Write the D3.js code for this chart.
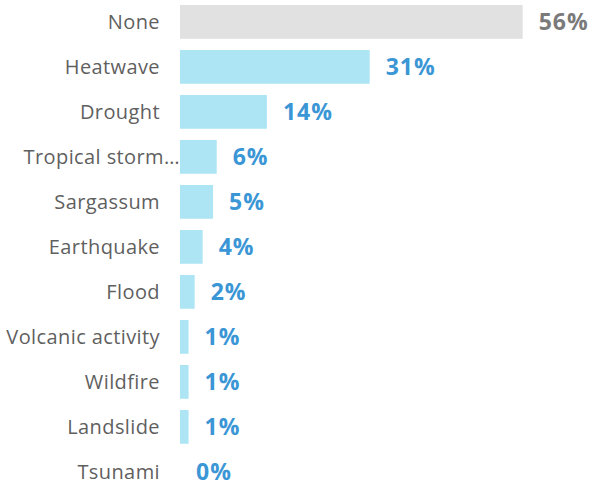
<!DOCTYPE html>
<html>
<head>
<meta charset="utf-8">
<script src="https://cdn.jsdelivr.net/npm/d3@7"></script>
<style>
  body { margin: 0; background: #fff; }
  svg { display: block; font-family: "Open Sans", Lato, sans-serif; }
</style>
</head>
<body>
<svg id="chart"></svg>
<script>
// categories, top to bottom
var categories = ['None', 'Heatwave', 'Drought', 'Tropical storm\u2026', 'Sargassum',
	'Earthquake', 'Flood', 'Volcanic activity', 'Wildfire', 'Landslide', 'Tsunami'];
// share of responses, %
var values = [56, 31, 14.2, 6, 5.4, 3.7, 2.4, 1.4, 1.4, 1.4, 0];
var valueLabels = ['56%', '31%', '14%', '6%', '5%', '4%', '2%', '1%', '1%', '1%', '0%'];

var width = 592, height = 481;
var barLeft = 180;

var svg = d3.select('#chart')
	.attr('width', width)
	.attr('height', height);

var x = d3.scaleLinear()
	.domain([0, 56])
	.range([barLeft, 522.7]);

var y = d3.scaleBand()
	.domain(categories)
	.range([-0.6, 494.4])
	.paddingInner(0.25)
	.paddingOuter(0.125);

var rows = categories.map(function(c, i) {
	return { name: c, value: values[i], label: valueLabels[i], none: i === 0 };
});

var row = svg.append('g')
	.selectAll('g')
	.data(rows)
	.enter().append('g');

row.append('rect')
	.attr('x', x(0))
	.attr('y', function(d) { return y(d.name); })
	.attr('width', function(d) { return x(d.value) - x(0); })
	.attr('height', y.bandwidth())
	.attr('fill', function(d) { return d.none ? '#e1e1e1' : '#ade5f5'; });

// category labels (the long one runs up to the bar)
row.append('text')
	.attr('x', function(d) { return d.name.indexOf('\u2026') > -1 ? 180 : 160; })
	.attr('y', function(d) { return y(d.name) + y.bandwidth() / 2; })
	.attr('dy', '0.35em')
	.attr('text-anchor', 'end')
	.attr('fill', '#5f5f5f')
	.style('font-size', '20px')
	.style('letter-spacing', '0.4px')
	.text(function(d) { return d.name; });

row.append('text')
	.attr('x', function(d) { return x(d.value) + 16; })
	.attr('y', function(d) { return y(d.name) + y.bandwidth() / 2; })
	.attr('dy', '0.36em')
	.attr('fill', function(d) { return d.none ? '#7a7a7a' : '#3b96d6'; })
	.style('font-size', '23px')
	.style('font-weight', 'bold')
	.style('letter-spacing', '1px')
	.text(function(d) { return d.label; });
</script>
</body>
</html>
